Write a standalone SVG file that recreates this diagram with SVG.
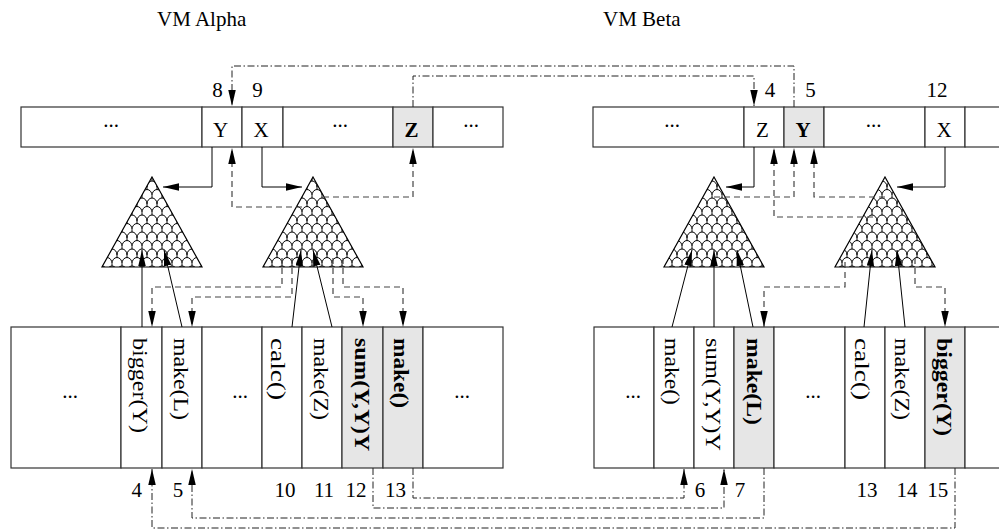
<svg xmlns="http://www.w3.org/2000/svg" width="999" height="532" viewBox="0 0 999 532">
<defs>
<style>
.t{font-family:"Liberation Serif","Times New Roman",serif;font-size:21px;fill:#000}
.c{text-anchor:middle}
.b{font-weight:bold}
.cell{fill:#fff;stroke:#333;stroke-width:1.2}
.g{fill:#e6e6e6}
.tri{fill:url(#scales);stroke:#000;stroke-width:1.2}
.sol{fill:none;stroke:#000;stroke-width:1}
.dsh{fill:none;stroke:#444;stroke-width:1.2;stroke-dasharray:6 4}
.dd{fill:none;stroke:#222;stroke-width:1;stroke-dasharray:7 2.5 1.5 2.5}
</style>
<marker id="ah" markerUnits="userSpaceOnUse" markerWidth="16" markerHeight="8" refX="16" refY="3.75" orient="auto">
<path d="M0,0 L16,3.75 L0,7.5 z" fill="#000"/>
</marker>
<pattern id="scales" patternUnits="userSpaceOnUse" width="10" height="17" x="2" y="0">
<rect width="10" height="17" fill="#fff"/>
<path d="M0,8.5 A5,6 0 0 1 10,8.5 M0,8.5 V11 M10,8.5 V11 M-5,17 A5,6 0 0 1 5,17 A5,6 0 0 1 15,17 M5,0 V2.5" fill="none" stroke="#000" stroke-width="1"/>
</pattern>
</defs>
<rect width="999" height="532" fill="#fff"/>

<g id="titles">
<text class="t" x="157" y="26">VM Alpha</text>
<text class="t" x="603" y="26">VM Beta</text>
</g>

<g id="alpha-memory">
<g id="am-0"><rect class="cell" x="21" y="107" width="181" height="40"/><text class="t c" x="111" y="127">...</text></g>
<g id="am-8"><rect class="cell" x="202" y="107" width="40" height="40"/><text class="t c" x="220.5" y="137">Y</text><text class="t c" x="217.5" y="97">8</text></g>
<g id="am-9"><rect class="cell" x="242" y="107" width="41" height="40"/><text class="t c" x="261" y="137">X</text><text class="t c" x="257.5" y="97">9</text></g>
<g id="am-1"><rect class="cell" x="283" y="107" width="110" height="40"/><text class="t c" x="340" y="127">...</text></g>
<g id="am-z"><rect class="cell g" x="393" y="107" width="40" height="40"/><text class="t c b" x="411.5" y="137">Z</text></g>
<g id="am-2"><rect class="cell" x="433" y="107" width="70" height="40"/><text class="t c" x="471" y="127">...</text></g>
</g>

<g id="beta-memory">
<g id="bm-0"><rect class="cell" x="593" y="107" width="151" height="40"/><text class="t c" x="672" y="127">...</text></g>
<g id="bm-4"><rect class="cell" x="744" y="107" width="40" height="40"/><text class="t c" x="762.5" y="137">Z</text><text class="t c" x="770" y="97">4</text></g>
<g id="bm-5"><rect class="cell g" x="784" y="107" width="40" height="40"/><text class="t c b" x="803" y="137">Y</text><text class="t c" x="810.5" y="97">5</text></g>
<g id="bm-1"><rect class="cell" x="824" y="107" width="101" height="40"/><text class="t c" x="873.5" y="127">...</text></g>
<g id="bm-12"><rect class="cell" x="925" y="107" width="40" height="40"/><text class="t c" x="944" y="137">X</text><text class="t c" x="937" y="97">12</text></g>
<g id="bm-2"><rect class="cell" x="965" y="107" width="45" height="40"/></g>
</g>

<g id="tree-a1"><path class="tri" d="M152,177 L202,267 L102,267 Z"/></g>
<g id="tree-a2"><path class="tri" d="M313,177 L363,267 L263,267 Z"/></g>
<g id="tree-b1"><path class="tri" d="M714,177 L764,267 L664,267 Z"/></g>
<g id="tree-b2"><path class="tri" d="M885,177 L935,267 L835,267 Z"/></g>

<g id="alpha-stack">
<g id="as-0"><rect class="cell" x="11" y="327" width="110" height="141"/><text class="t c" x="70" y="398">...</text></g>
<g id="as-4"><rect class="cell" x="121" y="327" width="41" height="141"/><text class="t" transform="translate(133,338) rotate(90)" textLength="95" lengthAdjust="spacingAndGlyphs">bigger(Y)</text><text class="t c" x="136.7" y="497">4</text></g>
<g id="as-5"><rect class="cell" x="162" y="327" width="40" height="141"/><text class="t" transform="translate(174,338) rotate(90)" textLength="82" lengthAdjust="spacingAndGlyphs">make(L)</text><text class="t c" x="178" y="497">5</text></g>
<g id="as-1"><rect class="cell" x="202" y="327" width="60" height="141"/><text class="t c" x="240" y="398">...</text></g>
<g id="as-10"><rect class="cell" x="262" y="327" width="40" height="141"/><text class="t" transform="translate(271,338) rotate(90)" textLength="62" lengthAdjust="spacingAndGlyphs">calc()</text><text class="t c" x="285" y="497">10</text></g>
<g id="as-11"><rect class="cell" x="302" y="327" width="40" height="141"/><text class="t" transform="translate(314,338) rotate(90)" textLength="82" lengthAdjust="spacingAndGlyphs">make(Z)</text><text class="t c" x="324" y="497">11</text></g>
<g id="as-12"><rect class="cell g" x="342" y="327" width="41" height="141"/><text class="t b" transform="translate(355,338) rotate(90)" textLength="113" lengthAdjust="spacingAndGlyphs">sum(Y,Y)Y</text><text class="t c" x="356" y="497">12</text></g>
<g id="as-13"><rect class="cell g" x="383" y="327" width="40" height="141"/><text class="t b" transform="translate(394,338) rotate(90)" textLength="70" lengthAdjust="spacingAndGlyphs">make()</text><text class="t c" x="395.5" y="497">13</text></g>
<g id="as-2"><rect class="cell" x="423" y="327" width="80" height="141"/><text class="t c" x="462" y="398">...</text></g>
</g>

<g id="beta-stack">
<g id="bs-0"><rect class="cell" x="594" y="327" width="60" height="141"/><text class="t c" x="633" y="398">...</text></g>
<g id="bs-6"><rect class="cell" x="654" y="327" width="40" height="141"/><text class="t" transform="translate(665,338) rotate(90)" textLength="67" lengthAdjust="spacingAndGlyphs">make()</text><text class="t c" x="700" y="497">6</text></g>
<g id="bs-7"><rect class="cell" x="694" y="327" width="40" height="141"/><text class="t" transform="translate(706,338) rotate(90)" textLength="113" lengthAdjust="spacingAndGlyphs">sum(Y,Y)Y</text><text class="t c" x="740" y="497">7</text></g>
<g id="bs-l"><rect class="cell g" x="734" y="327" width="40" height="141"/><text class="t b" transform="translate(746.5,338) rotate(90)" textLength="87" lengthAdjust="spacingAndGlyphs">make(L)</text></g>
<g id="bs-1"><rect class="cell" x="774" y="327" width="71" height="141"/><text class="t c" x="813" y="398">...</text></g>
<g id="bs-13"><rect class="cell" x="845" y="327" width="40" height="141"/><text class="t" transform="translate(855,338) rotate(90)" textLength="62" lengthAdjust="spacingAndGlyphs">calc()</text><text class="t c" x="867" y="497">13</text></g>
<g id="bs-14"><rect class="cell" x="885" y="327" width="40" height="141"/><text class="t" transform="translate(895,338) rotate(90)" textLength="82" lengthAdjust="spacingAndGlyphs">make(Z)</text><text class="t c" x="907" y="497">14</text></g>
<g id="bs-15"><rect class="cell g" x="925" y="327" width="40" height="141"/><text class="t b" transform="translate(936.5,338) rotate(90)" textLength="98" lengthAdjust="spacingAndGlyphs">bigger(Y)</text><text class="t c" x="937.7" y="497">15</text></g>
<g id="bs-2"><rect class="cell" x="965" y="327" width="45" height="141"/></g>
</g>

<g id="connectors">
<path class="sol" d="M212,147 V187 H163" marker-end="url(#ah)"/>
<path class="sol" d="M262,147 V187 H302" marker-end="url(#ah)"/>
<path class="sol" d="M754,147 V187 H726" marker-end="url(#ah)"/>
<path class="sol" d="M945,147 V187 H897" marker-end="url(#ah)"/>
<path class="sol" d="M142,327 V250" marker-end="url(#ah)"/>
<path class="sol" d="M182,327 L164,250" marker-end="url(#ah)"/>
<path class="sol" d="M292,327 L301,250" marker-end="url(#ah)"/>
<path class="sol" d="M332,327 L313,250" marker-end="url(#ah)"/>
<path class="sol" d="M672,327 L692,250" marker-end="url(#ah)"/>
<path class="sol" d="M714,327 V250" marker-end="url(#ah)"/>
<path class="sol" d="M753,327 L737,250" marker-end="url(#ah)"/>
<path class="sol" d="M864,327 L872,250" marker-end="url(#ah)"/>
<path class="sol" d="M905,327 L897,250" marker-end="url(#ah)"/>
<path class="dsh" d="M323,197 H413 V148" marker-end="url(#ah)"/>
<path class="dsh" d="M302,207 H232 V148" marker-end="url(#ah)"/>
<path class="dsh" d="M714,197 H794 V148" marker-end="url(#ah)"/>
<path class="dsh" d="M885,197 H814 V148" marker-end="url(#ah)"/>
<path class="dsh" d="M873,217 H774 V148" marker-end="url(#ah)"/>
<path class="dsh" d="M282,258 V287 H152 V327" marker-end="url(#ah)"/>
<path class="dsh" d="M292,258 V297 H192 V327" marker-end="url(#ah)"/>
<path class="dsh" d="M333,258 V297 H363 V327" marker-end="url(#ah)"/>
<path class="dsh" d="M343,258 V287 H403 V327" marker-end="url(#ah)"/>
<path class="dsh" d="M845,262 V287 H764 V327" marker-end="url(#ah)"/>
<path class="dsh" d="M915,258 V287 H945 V327" marker-end="url(#ah)"/>
<path class="dd" d="M794,107 V66 H232 V106" marker-end="url(#ah)"/>
<path class="dd" d="M413,107 V76 H754 V106" marker-end="url(#ah)"/>
<path class="dd" d="M413,468 V498 H684 V469" marker-end="url(#ah)"/>
<path class="dd" d="M373,468 V508 H724 V469" marker-end="url(#ah)"/>
<path class="dd" d="M764,468 V518 H192 V469" marker-end="url(#ah)"/>
<path class="dd" d="M955,468 V528 H152 V469" marker-end="url(#ah)"/>
</g>
</svg>
